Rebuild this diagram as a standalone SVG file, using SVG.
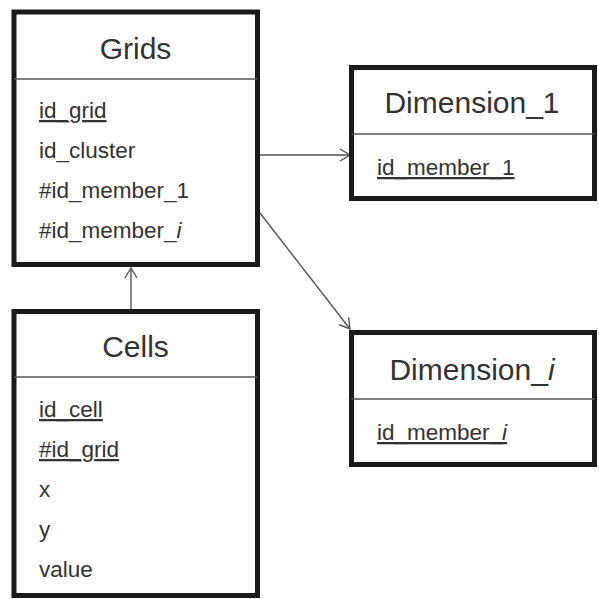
<svg xmlns="http://www.w3.org/2000/svg" width="599" height="599" viewBox="0 0 599 599">
<style>
.box{fill:#fff;stroke:#1a1a1a;stroke-width:5}
.div{stroke:#555;stroke-width:1.5}
.title{font-family:"Liberation Sans",Arial,sans-serif;font-size:30px;fill:#333;text-anchor:middle}
.attr{font-family:"Liberation Sans",Arial,sans-serif;font-size:22.5px;fill:#333}
.u{text-decoration:underline}
.conn{stroke:#555;stroke-width:1.4;fill:none}
</style>
<defs>
<marker id="arr" markerUnits="userSpaceOnUse" markerWidth="12" markerHeight="14" viewBox="0 0 12 14" refX="11" refY="7" orient="auto">
<path d="M1,1 L11,7 L1,13" fill="none" stroke="#555" stroke-width="1.4"/>
</marker>
</defs>
<g id="connectors">
<line class="conn" x1="260" y1="155" x2="350" y2="155" marker-end="url(#arr)"/>
<line class="conn" x1="260" y1="213" x2="350" y2="329" marker-end="url(#arr)"/>
<line class="conn" x1="131" y1="309" x2="131" y2="268" marker-end="url(#arr)"/>
</g>
<g id="grids">
<rect class="box" x="14" y="12" width="243.5" height="252.5"/>
<line class="div" x1="14" y1="79" x2="257.5" y2="79"/>
<text class="title" x="135.5" y="59">Grids</text>
<text class="attr u" x="39" y="118">id_grid</text>
<text class="attr" x="39" y="158">id_cluster</text>
<text class="attr" x="39" y="198">#id_member_1</text>
<text class="attr" x="39" y="238">#id_member_<tspan font-style="italic">i</tspan></text>
</g>
<g id="dimension1">
<rect class="box" x="351.5" y="67.5" width="243" height="131"/>
<line class="div" x1="351.5" y1="134" x2="594.5" y2="134"/>
<text class="title" x="472" y="113">Dimension_1</text>
<text class="attr u" x="377" y="175">id_member_1</text>
</g>
<g id="dimensioni">
<rect class="box" x="351.5" y="332.5" width="243" height="132"/>
<line class="div" x1="351.5" y1="399" x2="594.5" y2="399"/>
<text class="title" x="472" y="380">Dimension_<tspan font-style="italic">i</tspan></text>
<text class="attr u" x="377" y="440">id_member_<tspan font-style="italic">i</tspan></text>
</g>
<g id="cells">
<rect class="box" x="14" y="311.5" width="243.5" height="284"/>
<line class="div" x1="14" y1="377" x2="257.5" y2="377"/>
<text class="title" x="135.5" y="357">Cells</text>
<text class="attr u" x="39" y="417">id_cell</text>
<text class="attr u" x="39" y="457">#id_grid</text>
<text class="attr" x="39" y="497">x</text>
<text class="attr" x="39" y="537">y</text>
<text class="attr" x="39" y="577">value</text>
</g>
</svg>
